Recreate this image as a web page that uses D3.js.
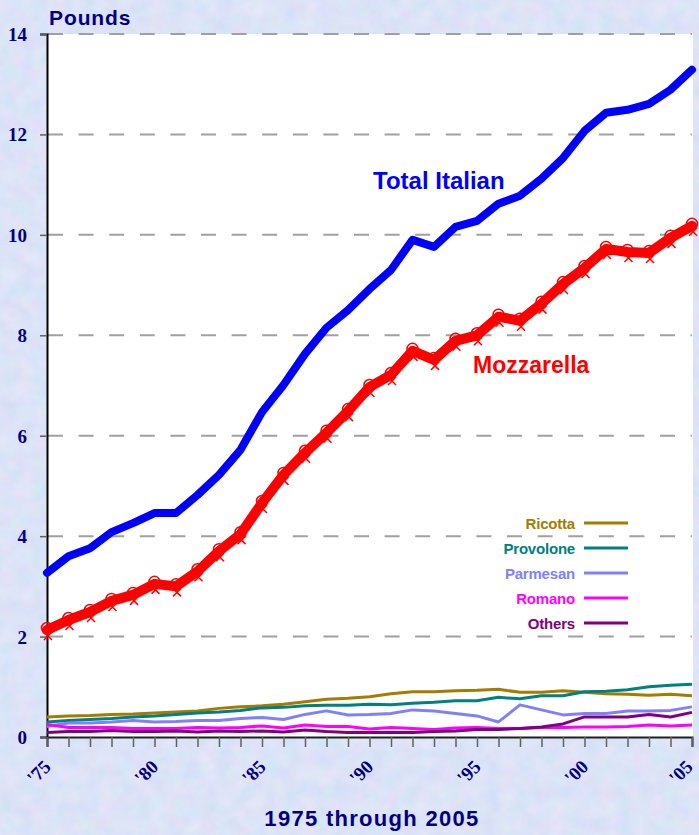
<!DOCTYPE html>
<html>
<head>
<meta charset="utf-8">
<script src="https://cdn.jsdelivr.net/npm/d3@7"></script>
<style>
html,body{margin:0;padding:0;background:#c9d8f4;}
svg{display:block;}
</style>
</head>
<body>
<svg id="chart" width="699" height="835"></svg>
<script>
const years = d3.range(1975, 2006);
const yTicks = [0, 2, 4, 6, 8, 10, 12, 14];
const xTickLabels = ["'75", "'80", "'85", "'90", "'95", "'00", "'05"];
const xTickLabelYears = [1975, 1980, 1985, 1990, 1995, 2000, 2005];

const totalItalian = [3.27,3.60,3.76,4.08,4.26,4.46,4.46,4.82,5.22,5.72,6.47,7.01,7.63,8.15,8.50,8.92,9.30,9.90,9.76,10.16,10.28,10.62,10.78,11.12,11.53,12.07,12.43,12.49,12.61,12.89,13.29];
const mozzarella = [2.13,2.33,2.49,2.71,2.83,3.05,3.00,3.30,3.70,4.04,4.66,5.22,5.66,6.06,6.49,6.97,7.21,7.69,7.51,7.89,8.00,8.37,8.29,8.63,9.02,9.34,9.72,9.66,9.64,9.94,10.18];
const ricotta = [0.40,0.42,0.43,0.45,0.46,0.48,0.50,0.52,0.57,0.60,0.62,0.65,0.70,0.75,0.77,0.80,0.86,0.90,0.90,0.92,0.93,0.95,0.89,0.89,0.92,0.89,0.86,0.85,0.83,0.85,0.82];
const provolone = [0.30,0.33,0.35,0.37,0.40,0.42,0.45,0.48,0.50,0.53,0.58,0.59,0.62,0.63,0.63,0.65,0.64,0.67,0.69,0.72,0.72,0.79,0.76,0.82,0.82,0.90,0.91,0.94,1.00,1.03,1.05];
const parmesan = [0.21,0.28,0.28,0.30,0.33,0.30,0.31,0.33,0.33,0.37,0.39,0.35,0.45,0.52,0.44,0.45,0.47,0.54,0.52,0.47,0.42,0.30,0.64,0.54,0.44,0.47,0.47,0.52,0.52,0.53,0.60];
const romano = [0.25,0.19,0.19,0.19,0.17,0.17,0.17,0.19,0.18,0.19,0.22,0.18,0.24,0.21,0.21,0.16,0.19,0.17,0.15,0.18,0.19,0.17,0.17,0.19,0.19,0.20,0.20,0.21,0.24,0.22,0.24];
const others = [0.09,0.11,0.11,0.13,0.11,0.11,0.12,0.10,0.12,0.11,0.12,0.10,0.14,0.11,0.09,0.09,0.09,0.09,0.11,0.12,0.15,0.15,0.17,0.20,0.26,0.40,0.40,0.40,0.45,0.40,0.49];

const minorNames = ["Ricotta", "Provolone", "Parmesan", "Romano", "Others"];
const minorValues = [ricotta, provolone, parmesan, romano, others];
const minorColors = ["#a57c00", "#008080", "#8080ff", "#ff00ff", "#800080"];

const svg = d3.select("#chart");
const W = 699, H = 835;
const mL = 47, mR = 692, mT = 34, mB = 737;
const navy = "#000080";

// textured background
const defs = svg.append("defs");
const f = defs.append("filter").attr("id", "tex").attr("x", 0).attr("y", 0).attr("width", "100%").attr("height", "100%");
f.append("feTurbulence").attr("type", "fractalNoise").attr("baseFrequency", 0.06).attr("numOctaves", 3).attr("seed", 4).attr("result", "n");
f.append("feColorMatrix").attr("in", "n").attr("type", "matrix")
  .attr("values", "0.45 0 0 0 0.62  0 0.25 0 0 0.72  0 0 0.2 0 0.86  0 0 0 0 1");
svg.append("rect").attr("width", W).attr("height", H).attr("fill", "#c9d8f4");
svg.append("rect").attr("width", W).attr("height", H).attr("filter", "url(#tex)").attr("opacity", 0.55);

const x = d3.scaleLinear().domain([1975, 2005]).range([mL, mR]);
const y = d3.scaleLinear().domain([0, 14]).range([mB, mT]);

// plot area
svg.append("rect").attr("x", mL).attr("y", mT).attr("width", mR - mL + 1).attr("height", mB - mT).attr("fill", "#ffffff");

// gridlines
svg.append("g").selectAll("line").data(yTicks.filter(d => d > 0)).join("line")
  .attr("x1", mL + 1).attr("x2", mR).attr("y1", d => y(d)).attr("y2", d => y(d))
  .attr("stroke", "#a0a0a0").attr("stroke-width", 2).attr("stroke-dasharray", "15,15.6");

// y axis
const yAxis = svg.append("g").attr("transform", `translate(${mL},0)`)
  .call(d3.axisLeft(y).tickValues(yTicks).tickSize(7).tickFormat(d3.format("d")));
yAxis.select(".domain").attr("stroke", "#000").attr("stroke-width", 2);
yAxis.selectAll(".tick line").attr("stroke", "#606060").attr("stroke-width", 1.5);
yAxis.selectAll(".tick text").attr("x", -20).attr("dy", "0.34em")
  .attr("font-family", "'Liberation Serif','Times New Roman',serif").attr("font-weight", "bold")
  .attr("font-size", 19).attr("fill", navy);

// x axis
const xAxis = svg.append("g").attr("transform", `translate(0,${mB})`)
  .call(d3.axisBottom(x).tickValues(years).tickSize(10).tickFormat(""));
xAxis.select(".domain").attr("stroke", "#202020").attr("stroke-width", 2);
xAxis.selectAll(".tick line").attr("stroke", "#606060").attr("stroke-width", 1.5);

svg.append("g").selectAll("text").data(xTickLabelYears).join("text")
  .attr("transform", (d, i) => `translate(${x(d) + (i === xTickLabelYears.length - 1 ? 2 : 5)},${mB + 31}) rotate(-45)`)
  .attr("text-anchor", "end")
  .attr("font-family", "'Liberation Serif','Times New Roman',serif").attr("font-weight", "bold")
  .attr("font-size", 19).attr("fill", navy)
  .text((d, i) => xTickLabels[i]);

const line = d3.line().x((d, i) => x(years[i])).y(d => y(d));

// minor series
minorValues.forEach((vals, k) => {
  svg.append("path").datum(vals).attr("d", line).attr("fill", "none")
    .attr("stroke", minorColors[k]).attr("stroke-width", 3).attr("stroke-linejoin", "round");
});

// total italian
svg.append("path").datum(totalItalian).attr("d", line).attr("fill", "none")
  .attr("stroke", "#0000ff").attr("stroke-width", 8).attr("stroke-linejoin", "round").attr("stroke-linecap", "round");

// mozzarella
svg.append("path").datum(mozzarella).attr("d", line).attr("fill", "none")
  .attr("stroke", "#ff0000").attr("stroke-width", 10).attr("stroke-linejoin", "round").attr("stroke-linecap", "round");
const mk = svg.append("g").attr("stroke", "#ff0000").attr("fill", "none").attr("stroke-width", 1.5);
mk.selectAll("circle").data(mozzarella).join("circle")
  .attr("cx", (d, i) => x(years[i])).attr("cy", d => y(d) - 2).attr("r", 5.5);
mk.selectAll("path").data(mozzarella).join("path")
  .attr("d", (d, i) => {
    const cx = x(years[i]) + 1, cy = y(d) + 6, s = 4;
    return `M${cx - s},${cy - s}L${cx + s},${cy + s}M${cx - s},${cy + s}L${cx + s},${cy - s}`;
  });

// series labels
svg.append("text").attr("x", 373).attr("y", 189).text("Total Italian")
  .attr("font-family", "'Liberation Sans',Arial,sans-serif").attr("font-weight", "bold")
  .attr("font-size", 24).attr("fill", "#0000ff");
svg.append("text").attr("x", 473).attr("y", 373).text("Mozzarella")
  .attr("font-family", "'Liberation Sans',Arial,sans-serif").attr("font-weight", "bold")
  .attr("font-size", 23).attr("fill", "#ff0000");

// legend
const lg = svg.append("g");
minorNames.forEach((name, k) => {
  const ly = 523 + k * 25;
  lg.append("line").attr("x1", 584).attr("x2", 628).attr("y1", ly).attr("y2", ly)
    .attr("stroke", minorColors[k]).attr("stroke-width", 3);
  lg.append("text").attr("x", 575).attr("y", ly + 5.5).attr("text-anchor", "end")
    .attr("font-family", "'Liberation Sans',Arial,sans-serif").attr("font-weight", "bold")
    .attr("font-size", 15).attr("letter-spacing", -0.2).attr("fill", minorColors[k]).text(name);
});

// titles
svg.append("text").attr("x", 49).attr("y", 25).text("Pounds")
  .attr("font-family", "'Liberation Sans',Arial,sans-serif").attr("font-weight", "bold")
  .attr("font-size", 21).attr("letter-spacing", 0.9).attr("fill", navy);
svg.append("text").attr("x", 372).attr("y", 826).attr("text-anchor", "middle").text("1975 through 2005")
  .attr("font-family", "'Liberation Sans',Arial,sans-serif").attr("font-weight", "bold")
  .attr("font-size", 22).attr("letter-spacing", 1.3).attr("fill", navy);
</script>
</body>
</html>
